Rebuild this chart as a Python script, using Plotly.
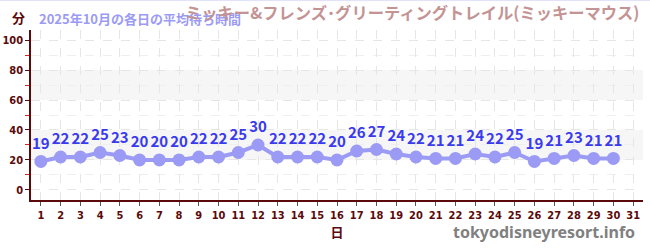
import plotly.graph_objects as go

days = list(range(1, 31))
waits = [19, 22, 22, 25, 23, 20, 20, 20, 22, 22, 25, 30, 22, 22, 22, 20, 26, 27, 24, 22,
         21, 21, 24, 22, 25, 19, 21, 23, 21, 21]
x_ticks = list(range(1, 32))
y_ticks = [0, 20, 40, 60, 80, 100]
bands = [(20, 40), (60, 80)]
title = "ミッキー&フレンズ･グリーティングトレイル(ミッキーマウス)"
subtitle = "2025年10月の各日の平均待ち時間"

JP = "Noto Sans CJK JP"
axis_col = "#5a0a0a"

fig = go.Figure()
for lo, hi in bands:
    fig.add_shape(type="rect", xref="paper", yref="y", x0=0, x1=1, y0=lo, y1=hi,
                  fillcolor="rgba(235,235,235,0.45)", line_width=0, layer="below")

fig.add_trace(go.Scatter(
    x=days, y=waits, mode="lines+markers+text",
    line=dict(color="#9b9bf5", width=4),
    marker=dict(color="#9b9bf5", size=13),
    text=[str(v) for v in waits], textposition="top center",
    textfont=dict(family=JP, size=15, color="#3a3aee", weight="bold"),
    cliponaxis=False, hoverinfo="skip"))

fig.update_xaxes(range=[0.5, 31.5], tickmode="array", tickvals=x_ticks,
                 ticktext=[str(t) for t in x_ticks],
                 showline=True, linecolor=axis_col, linewidth=1.5,
                 ticks="outside", ticklen=4, tickcolor="#555",
                 tickfont=dict(family="DejaVu Sans Condensed", size=11, color=axis_col, weight="bold"),
                 showgrid=True, gridcolor="#e6e6e6", griddash="dash", gridwidth=1,
                 zeroline=False, automargin=False,
                 title=dict(text="日", font=dict(family=JP, size=13, color=axis_col, weight="bold"), standoff=6))
fig.update_yaxes(range=[-6.7, 106.7], tickmode="array", tickvals=y_ticks,
                 showline=True, linecolor=axis_col, linewidth=1.5,
                 ticks="outside", ticklen=4, tickcolor=axis_col,
                 tickfont=dict(family="DejaVu Sans Condensed", size=11, color=axis_col, weight="bold"),
                 showgrid=True, gridcolor="#e6e6e6", griddash="dash", gridwidth=1,
                 zeroline=False, automargin=False,
                 minor=dict(dtick=10, tick0=0, ticks="outside", ticklen=4, tickcolor="#dd2222",
                            showgrid=True, gridcolor="#efefef", griddash="dash"))

fig.add_annotation(text="分", xref="paper", yref="paper", x=-0.02, y=1.005, xanchor="center", yanchor="bottom",
                   showarrow=False, font=dict(family=JP, size=13, color=axis_col, weight="bold"))
fig.add_annotation(text=subtitle, xref="paper", yref="paper", x=0.01, y=1.0, xanchor="left", yanchor="bottom",
                   showarrow=False, font=dict(family=JP, size=13, color="#9b9bf5", weight="bold"))
fig.add_annotation(text=title, xref="paper", yref="paper", x=0.998, y=1.025, xanchor="right", yanchor="bottom",
                   showarrow=False, font=dict(family=JP, size=16.3, color="#c49494", weight="bold"))
fig.add_annotation(text="tokyodisneyresort.info", xref="paper", yref="paper", x=0.99, y=-0.19,
                   xanchor="right", yanchor="middle", showarrow=False,
                   font=dict(family="Noto Sans", size=16, color="#808080", weight="bold"))
fig.add_shape(type="line", xref="paper", yref="paper", x0=-0.1, x1=1.1, y0=1.173, y1=1.173,
              line=dict(color="#e0e0f8", width=1))

fig.update_layout(width=650, height=250, margin=dict(l=31, r=7, t=30, b=50),
                  paper_bgcolor="white", plot_bgcolor="white", showlegend=False)
fig.write_html("out.html")
